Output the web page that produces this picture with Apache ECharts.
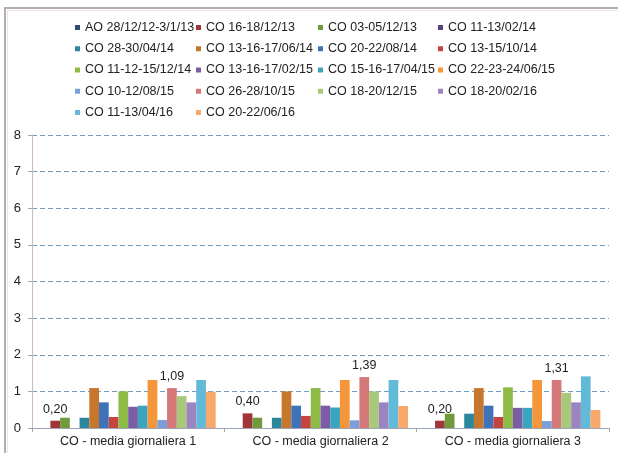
<!DOCTYPE html>
<html>
<head>
<meta charset="utf-8">
<script src="https://cdn.jsdelivr.net/npm/echarts@6/dist/echarts.min.js"></script>
<style>html,body{margin:0;padding:0;background:#fff;}#c{width:618px;height:453px;}</style>
</head>
<body>
<div id="c"></div>
<script>
const categories = ['CO - media giornaliera 1', 'CO - media giornaliera 2', 'CO - media giornaliera 3'];
const seriesNames = [
  'AO 28/12/12-3/1/13', 'CO 16-18/12/13', 'CO 03-05/12/13', 'CO 11-13/02/14',
  'CO 28-30/04/14', 'CO 13-16-17/06/14', 'CO 20-22/08/14', 'CO 13-15/10/14',
  'CO 11-12-15/12/14', 'CO 13-16-17/02/15', 'CO 15-16-17/04/15', 'CO 22-23-24/06/15',
  'CO 10-12/08/15', 'CO 26-28/10/15', 'CO 18-20/12/15', 'CO 18-20/02/16',
  'CO 11-13/04/16', 'CO 20-22/06/16'
];
const s01 = [null, null, null];
const s02 = [0.20, 0.40, 0.20];
const s03 = [0.28, 0.28, 0.39];
const s04 = [null, null, null];
const s05 = [0.28, 0.28, 0.39];
const s06 = [1.09, 1.00, 1.09];
const s07 = [0.70, 0.61, 0.61];
const s08 = [0.30, 0.33, 0.30];
const s09 = [1.00, 1.09, 1.11];
const s10 = [0.58, 0.61, 0.55];
const s11 = [0.61, 0.56, 0.55];
const s12 = [1.31, 1.31, 1.31];
const s13 = [0.22, 0.21, 0.19];
const s14 = [1.09, 1.39, 1.31];
const s15 = [0.87, 1.00, 0.96];
const s16 = [0.70, 0.70, 0.70];
const s17 = [1.31, 1.31, 1.41];
const s18 = [0.99, 0.60, 0.49];
const seriesValues = [s01,s02,s03,s04,s05,s06,s07,s08,s09,s10,s11,s12,s13,s14,s15,s16,s17,s18];
const yTicks = [0,1,2,3,4,5,6,7,8];
const labelledSeries = [1, 13];

const colors = [
  '#2C4D75', '#A0353A', '#719A3C', '#564379', '#2B879E', '#C7772B',
  '#3F72B8', '#C4453F', '#8EBB45', '#7B5DA5', '#3BA5C0', '#F5963A',
  '#7A9FDA', '#D4787A', '#A8C97A', '#9B84C0', '#62BAD8', '#F8A86A'
];

const font = 'Liberation Sans, Arial, sans-serif';
const fmt = v => Number(v).toFixed(2).replace('.', ',');

const series = seriesNames.map((name, i) => ({
  name: name,
  type: 'bar',
  data: seriesValues[i],
  barGap: '0%',
  barCategoryGap: '9%',
  itemStyle: { color: colors[i] },
  label: labelledSeries.includes(i) ? {
    show: true, position: 'top', distance: 5,
    formatter: p => fmt(p.value),
    fontFamily: font, fontSize: 12.5, color: '#222'
  } : { show: false }
}));

const colLefts = [75, 196, 318, 438];
const legends = colLefts.map((left, c) => ({
  orient: 'vertical',
  left: left,
  top: 20,
  itemWidth: 5,
  itemHeight: 5,
  itemGap: 6.25,
  icon: 'rect',
  selectedMode: false,
  padding: 0,
  textStyle: { fontFamily: font, fontSize: 12.5, color: '#222', lineHeight: 15 },
  data: seriesNames.filter((n, i) => i % 4 === c)
}));

const chart = echarts.init(document.getElementById('c'));
chart.setOption({
  animation: false,
  backgroundColor: '#fff',
  color: colors,
  graphic: [
    { type: 'rect', shape: { x: 5, y: 8, width: 700, height: 600 }, style: { fill: 'none', stroke: '#b0b0b0', lineWidth: 2 }, silent: true },
    { type: 'rect', shape: { x: 7.5, y: 10.5, width: 700, height: 600 }, style: { fill: 'none', stroke: '#f7e4df', lineWidth: 1 }, silent: true }
  ],
  legend: legends,
  grid: { left: 32, right: 9, top: 135, bottom: 25 },
  xAxis: {
    type: 'category',
    data: categories,
    axisLine: { lineStyle: { color: '#9aa6b4', width: 1 } },
    axisTick: { show: true, length: 4, lineStyle: { color: '#9aa6b4' } },
    axisLabel: { fontFamily: font, fontSize: 12.5, color: '#222', margin: 7 }
  },
  yAxis: {
    type: 'value',
    min: 0, max: 8, interval: 1,
    axisLine: { show: true, lineStyle: { color: '#d2b8b4', width: 1 } },
    axisTick: { show: true, length: 4, lineStyle: { color: '#9aa6b4' } },
    axisLabel: { fontFamily: font, fontSize: 13, color: '#222', margin: 11,
      formatter: v => yTicks.includes(v) ? String(v) : '' },
    splitLine: { show: true, lineStyle: { color: '#6f9cc0', type: [5, 3], width: 1.2 } }
  },
  series: series
});
</script>
</body>
</html>
